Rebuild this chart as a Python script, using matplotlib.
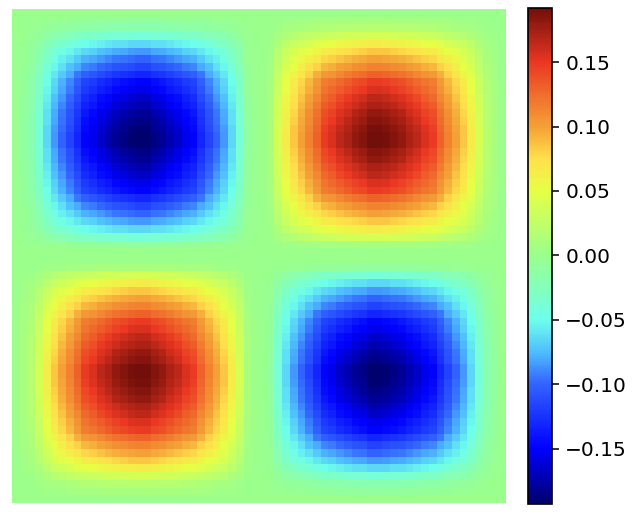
import numpy as np
import matplotlib
matplotlib.use("Agg")
import matplotlib.pyplot as plt
from matplotlib.colors import LinearSegmentedColormap

# one block of the field (size in 0.001 units)
# the other blocks are mirror images of it
block = [
    [0, 0, 0, 0, 0, 0, 0, 0, 0, 0, 0, 0, 0, 0, 0, 0, 0],
    [0, 1, 1, 2, 3, 4, 5, 6, 7, 8, 8, 9, 9, 9, 10, 10, 10],
    [0, 1, 2, 4, 7, 9, 10, 12, 13, 15, 16, 17, 18, 19, 19, 20, 20],
    [0, 2, 4, 8, 13, 18, 21, 24, 27, 31, 32, 34, 36, 37, 38, 39, 40],
    [1, 3, 7, 13, 23, 30, 35, 40, 45, 50, 52, 56, 58, 61, 62, 64, 65],
    [1, 4, 9, 18, 30, 40, 46, 52, 58, 65, 68, 73, 76, 79, 81, 84, 85],
    [1, 5, 10, 21, 35, 46, 56, 62, 70, 78, 81, 86, 90, 94, 96, 98, 100],
    [1, 6, 12, 24, 40, 52, 62, 74, 80, 90, 93, 99, 103, 108, 110, 113, 115],
    [1, 7, 13, 27, 45, 58, 70, 80, 94, 102, 106, 112, 117, 122, 125, 128, 130],
    [2, 8, 15, 31, 50, 65, 78, 90, 102, 116, 120, 127, 132, 138, 142, 146, 148],
    [2, 8, 16, 32, 52, 68, 81, 93, 106, 120, 126, 133, 138, 145, 149, 153, 155],
    [2, 9, 17, 34, 56, 73, 86, 99, 112, 127, 133, 142, 147, 154, 158, 162, 165],
    [2, 9, 18, 36, 58, 76, 90, 103, 117, 132, 138, 147, 153, 160, 165, 169, 172],
    [2, 9, 19, 37, 61, 79, 94, 108, 122, 138, 145, 154, 160, 168, 173, 177, 180],
    [2, 10, 19, 38, 62, 81, 96, 110, 125, 142, 149, 158, 165, 173, 178, 182, 185],
    [2, 10, 20, 39, 64, 84, 98, 113, 128, 146, 153, 162, 169, 177, 182, 187, 190],
    [2, 10, 20, 40, 65, 85, 100, 115, 130, 148, 155, 165, 172, 180, 185, 190, 193],
]
vmin = -0.193
vmax = 0.192
cbar_ticks = [-0.15, -0.10, -0.05, 0.00, 0.05, 0.10, 0.15]

# colours
cmap_values = [-0.193, -0.15, -0.10, -0.075, -0.05, 0.00, 0.05, 0.075, 0.10, 0.125, 0.15, 0.192]
cmap_colors = ["#00006e", "#0000ff", "#3264ff", "#50beff", "#6effeb", "#9bff8c",
               "#e6ff46", "#ffe14b", "#f5a037", "#f06e2d", "#eb3723", "#730f0a"]

# peak covers cells 16 and 17 of each 32 cell quadrant, inner side falls off a bit faster
order = list(range(17)) + [16] + list(range(14, 2, -1)) + [1, 0]
b = np.array(block)[np.ix_(order, order)] / 1000
z = np.block([[-b, b[:, ::-1]], [b[::-1], -b[::-1, ::-1]]])

stops = [(v - vmin) / (vmax - vmin) for v in cmap_values]
cmap = LinearSegmentedColormap.from_list("field", list(zip(stops, cmap_colors)), N=256)

W, H = 638, 520
fig = plt.figure(figsize=(W / 100, H / 100), dpi=100)
ax = fig.add_axes([12 / W, 1 - 503 / H, 494 / W, 494 / H])
cax = fig.add_axes([528 / W, 1 - 504 / H, 24 / W, 496 / H])

im = ax.imshow(z, cmap=cmap, vmin=vmin, vmax=vmax, interpolation="nearest", aspect="auto")
ax.axis("off")

cbar = fig.colorbar(im, cax=cax, ticks=cbar_ticks)
cbar.ax.tick_params(labelsize=14.5, length=5, width=1.1, pad=4.5)
cbar.ax.set_yticklabels(["\u22120.15", "\u22120.10", "\u22120.05", "0.00", "0.05", "0.10", "0.15"])
cbar.outline.set_linewidth(1.2)

fig.savefig("out.png", dpi=100)
